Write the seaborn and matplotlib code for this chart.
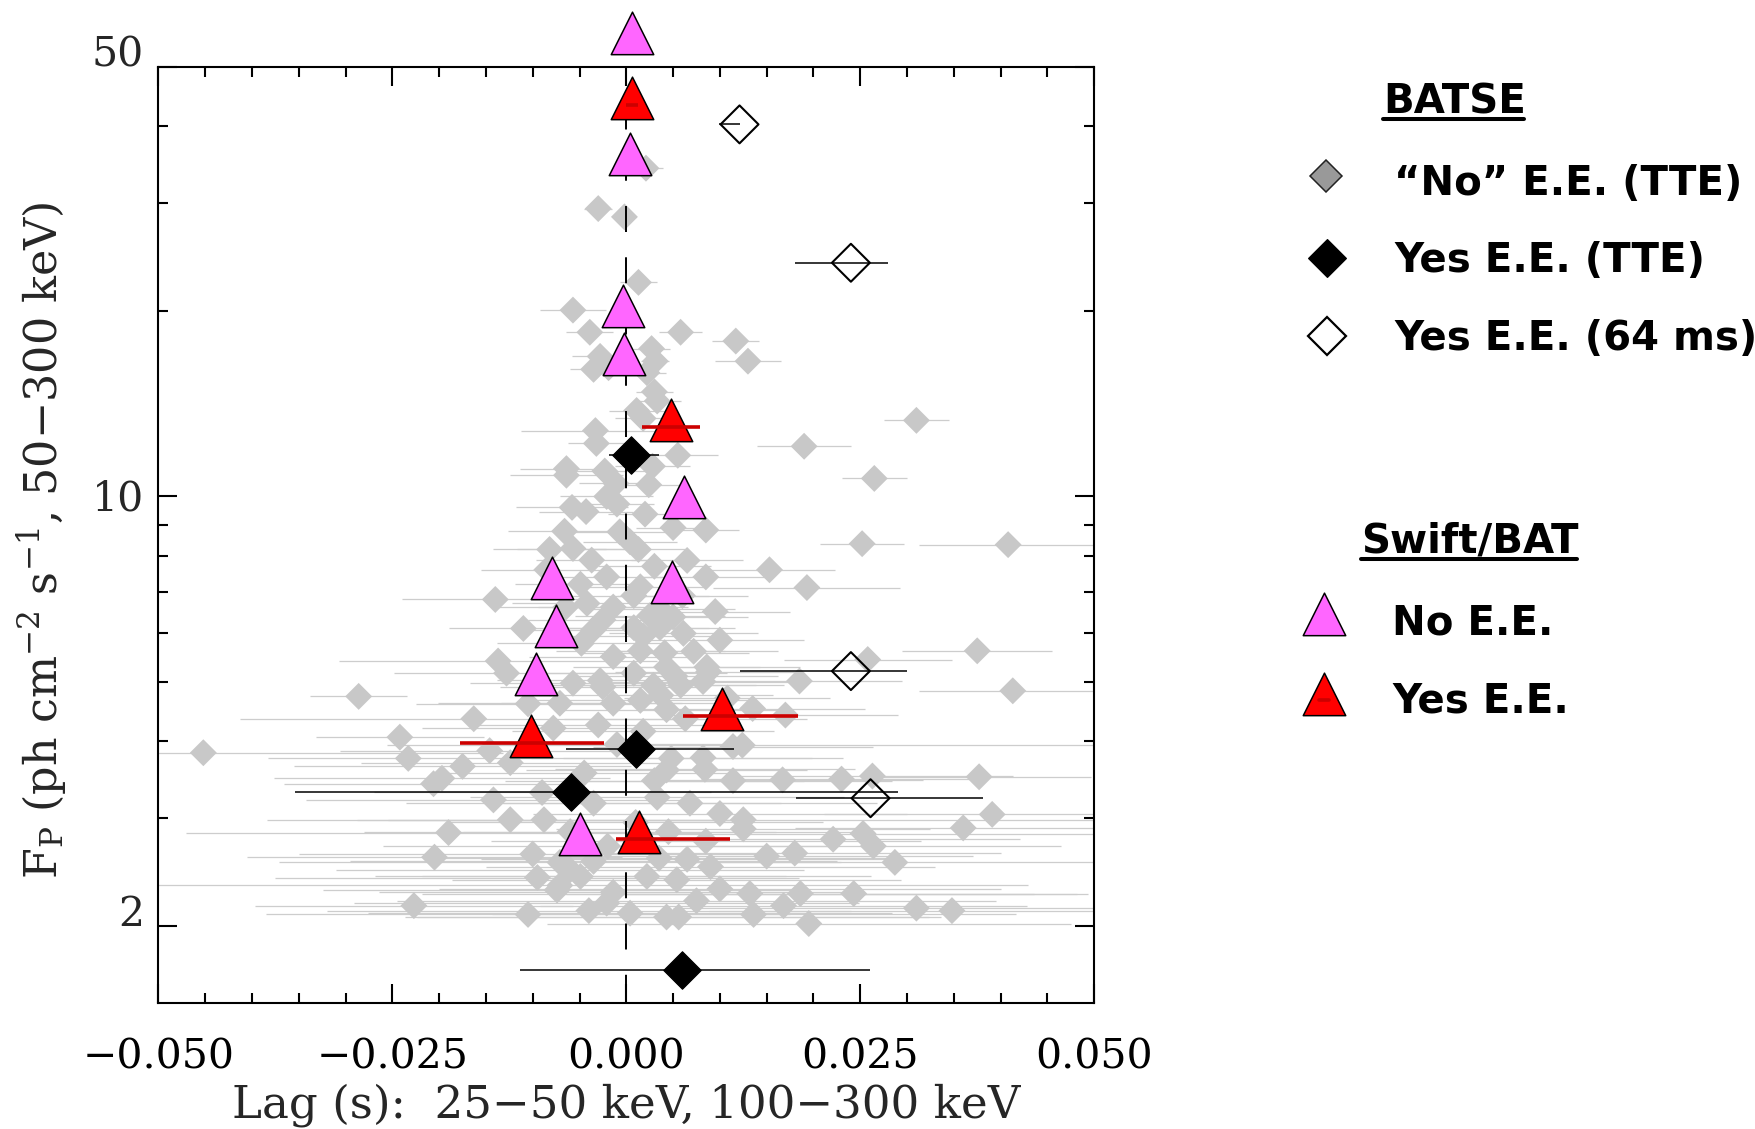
import numpy as np
import matplotlib
matplotlib.use("Agg")
import matplotlib.pyplot as plt
import matplotlib.transforms as mtransforms
import seaborn as sns
from matplotlib.ticker import FixedLocator, MultipleLocator, FuncFormatter, NullFormatter
from matplotlib.lines import Line2D
from matplotlib.markers import MarkerStyle
from matplotlib.path import Path

# ---------------- data ----------------
# BATSE "No" E.E. (TTE): lag (s), peak flux, symmetric lag error
no_ee_lag = [-0.0030, -0.0002, 0.0021, 0.0013, -0.0057, -0.0039, 0.0058, 0.0117, 0.0130, 0.0027,
             0.0031, -0.0028, -0.0035, 0.0022, -0.0019, 0.0030, 0.0033, 0.0011, 0.0018, 0.0310,
             -0.0033, -0.0032, 0.0190, 0.0055, -0.0064, -0.0023, 0.0028, 0.0265, -0.0064, -0.0011,
             0.0024, -0.0021, -0.0010, -0.0058, -0.0043, 0.0020, 0.0085, 0.0252, 0.0408, -0.0007,
             -0.0066, 0.0050, 0.0004, 0.0013, -0.0057, -0.0082, 0.0065, -0.0037, 0.0153, 0.0193,
             -0.0021, -0.0049, 0.0015, -0.0140, -0.0042, -0.0014, 0.0008, 0.0036, 0.0050, -0.0110,
             -0.0035, 0.0008, 0.0036, 0.0061, 0.0100, 0.0072, -0.0048, -0.0014, 0.0015, -0.0137,
             -0.0128, 0.0043, 0.0086, 0.0008, 0.0375, 0.0258, 0.0185, 0.0088, 0.0041, 0.0018,
             -0.0057, -0.0028, 0.0029, 0.0058, 0.0413, -0.0286, -0.0163, -0.0071, -0.0014, 0.0015,
             0.0043, 0.0135, 0.0170, -0.0242, -0.0452, 0.0124, -0.0233, -0.0175, -0.0197, -0.0206,
             0.0167, 0.0230, 0.0263, 0.0377, 0.0043, 0.0082, 0.0114, -0.0124, -0.0146, -0.0142,
             -0.0124, -0.0088, -0.0035, 0.0033, 0.0068, 0.0100, 0.0125, 0.0125, 0.0150, 0.0180,
             0.0221, 0.0253, 0.0264, 0.0287, 0.0360, 0.0391, -0.0190, -0.0205, 0.0065, -0.0071,
             -0.0049, 0.0090, 0.0022, 0.0054, -0.0074, -0.0060, -0.0014, 0.0132, 0.0136, 0.0168,
             0.0186, 0.0195, 0.0243, 0.0310, 0.0348, -0.0227, -0.0105, -0.0040, -0.0021, 0.0004,
             0.0043, 0.0056, -0.0071,
             0.0052, 0.0082, 0.0037, 0.0108, 0.0063, 0.0018, 0.0048, 0.0084, 0.0114, 0.0030,
             -0.0010, -0.0030, -0.0045, -0.0090, -0.0060, -0.0020, 0.0010, 0.0045, 0.0085, -0.0100,
             0.0035, -0.0035, 0.0100, 0.0075, -0.0095, -0.0025, -0.0078, -0.0105, 0.0025, -0.0025,
             -0.0065, 0.0060, 0.0095, -0.0085, 0.0030, 0.0085]
no_ee_flux = [29.4, 28.5, 34.2, 22.3, 20.1, 18.5, 18.5, 17.9, 16.6, 17.4,
              16.6, 16.9, 16.1, 15.9, 16.2, 14.8, 14.3, 13.8, 13.4, 13.3,
              12.8, 12.2, 12.07, 11.67, 11.1, 11.0, 11.2, 10.7, 10.83, 10.5,
              10.45, 10.0, 9.72, 9.6, 9.45, 9.36, 8.82, 8.38, 8.35, 8.76,
              8.78, 8.9, 8.44, 8.2, 8.23, 8.2, 7.87, 7.88, 7.6, 7.11,
              7.40, 7.2, 7.13, 6.8, 6.7, 6.61, 6.9, 6.56, 6.37, 6.10,
              6.07, 6.12, 6.12, 5.99, 5.84, 5.6, 5.77, 5.49, 5.61, 5.40,
              5.16, 5.28, 5.28, 5.16, 5.61, 5.43, 5.01, 5.19, 5.57, 5.93,
              4.97, 5.02, 4.93, 4.93, 4.83, 4.73, 4.35, 4.61, 4.61, 4.66,
              4.5, 4.52, 4.41, 4.06, 3.83, 3.94, 3.75, 3.64, 3.48, 3.41,
              3.46, 3.47, 3.51, 3.50, 3.59, 3.76, 3.92, 3.69, 3.86, 3.21,
              2.98, 2.98, 3.17, 3.24, 3.17, 3.05, 2.88, 2.98, 2.60, 2.63,
              2.77, 2.83, 2.70, 2.54, 2.89, 3.04, 2.84, 2.59, 2.57, 2.54,
              2.41, 2.50, 2.41, 2.38, 2.29, 2.47, 2.27, 2.26, 2.09, 2.16,
              2.26, 2.02, 2.26, 2.14, 2.12, 2.16, 2.09, 2.12, 2.18, 2.10,
              2.07, 2.07, 2.33,
              5.1, 5.0, 4.75, 4.7, 4.35, 4.15, 3.75, 3.6, 3.45, 3.45,
              3.95, 4.25, 3.55, 3.30, 2.85, 2.70, 2.95, 2.85, 2.75, 2.62,
              2.58, 2.55, 2.30, 2.20, 2.40, 4.9, 4.2, 4.6, 6.4, 6.3,
              6.6, 6.9, 6.5, 7.6, 7.7, 7.4]
no_ee_err = [0.0015, 0.0012, 0.0018, 0.0020, 0.0035, 0.0025, 0.0023, 0.0025, 0.0035, 0.0020,
             0.0015, 0.0030, 0.0025, 0.0020, 0.0020, 0.0020, 0.0025, 0.0030, 0.0030, 0.0035,
             0.0080, 0.0030, 0.0050, 0.0043, 0.0050, 0.0050, 0.0040, 0.0035, 0.0060, 0.0040,
             0.0040, 0.0050, 0.0040, 0.0060, 0.0050, 0.0040, 0.0035, 0.0045, 0.0095, 0.0050,
             0.0060, 0.0040, 0.0050, 0.0050, 0.0060, 0.0060, 0.0060, 0.0060, 0.0070, 0.0100,
             0.0070, 0.0070, 0.0070, 0.0100, 0.0080, 0.0080, 0.0080, 0.0080, 0.0080, 0.0080,
             0.0080, 0.0080, 0.0080, 0.0080, 0.0090, 0.0090, 0.0090, 0.0090, 0.0090, 0.0170,
             0.0120, 0.0100, 0.0100, 0.0100, 0.0080, 0.0090, 0.0110, 0.0100, 0.0090, 0.0090,
             0.0110, 0.0110, 0.0110, 0.0110, 0.0100, 0.0052, 0.0250, 0.0130, 0.0120, 0.0120,
             0.0120, 0.0120, 0.0120, 0.0090, 0.0320, 0.0380, 0.0150, 0.0180, 0.0180, 0.0160,
             0.0150, 0.0150, 0.0150, 0.0120, 0.0150, 0.0150, 0.0150, 0.0160, 0.0160, 0.0200,
             0.0260, 0.0200, 0.0200, 0.0200, 0.0200, 0.0200, 0.0200, 0.0380, 0.0220, 0.0220,
             0.0200, 0.0250, 0.0200, 0.0220, 0.0180, 0.0180, 0.0280, 0.0200, 0.0220, 0.0300,
             0.0220, 0.0240, 0.0240, 0.0240, 0.0250, 0.0250, 0.0250, 0.0350, 0.0280, 0.0260,
             0.0250, 0.0280, 0.0250, 0.0260, 0.0260, 0.0170, 0.0280, 0.0280, 0.0270, 0.0280,
             0.0280, 0.0280, 0.0500,
             0.0110, 0.0100, 0.0120, 0.0110, 0.0130, 0.0140, 0.0150, 0.0160, 0.0170, 0.0160,
             0.0140, 0.0130, 0.0160, 0.0180, 0.0220, 0.0240, 0.0200, 0.0220, 0.0230, 0.0250,
             0.0250, 0.0260, 0.0300, 0.0320, 0.0280, 0.0110, 0.0140, 0.0120, 0.0080, 0.0080,
             0.0080, 0.0070, 0.0080, 0.0070, 0.0060, 0.0070]

# BATSE Yes E.E. (TTE)
yes_tte_lag = [0.0005, 0.0010, -0.0059, 0.0060]
yes_tte_flux = [11.68, 3.89, 3.31, 1.70]
yes_tte_err_lo = [0.0024, 0.0074, 0.0295, 0.0174]
yes_tte_err_hi = [0.0030, 0.0105, 0.0349, 0.0200]

# BATSE Yes E.E. (64 ms)
yes64_lag = [0.0121, 0.0240, 0.0240, 0.0261]
yes64_flux = [40.3, 24.0, 5.20, 3.23]
yes64_err_lo = [0.0022, 0.0060, 0.0119, 0.0080]
yes64_err_hi = [0.0000, 0.0040, 0.0060, 0.0120]

# Swift/BAT No E.E.
swift_no_lag = [0.0006, 0.0004, -0.0004, -0.0002, 0.0062, -0.0079, 0.0049, -0.0075, -0.0096, -0.0049]
swift_no_flux = [55.2, 35.2, 19.9, 16.6, 9.71, 7.19, 7.08, 6.00, 5.01, 2.75]

# Swift/BAT Yes E.E.
swift_yes_lag = [0.0006, 0.0048, 0.0102, -0.0102, 0.0014]
swift_yes_flux = [43.3, 12.95, 4.40, 3.97, 2.77]
swift_yes_err_lo = [0.0006, 0.0031, 0.0041, 0.0076, 0.0025]
swift_yes_err_hi = [0.0006, 0.0031, 0.0081, 0.0078, 0.0097]

x_ticks = [-0.050, -0.025, 0.000, 0.025, 0.050]
y_ticks = [2, 10, 50]
y_tick_labels = ["2", "10", "50"]

# ---------------- style ----------------
sns.set_theme(style="ticks")
plt.rcParams.update({
    "font.family": ["DejaVu Serif"],
    "mathtext.fontset": "dejavuserif",
    "axes.unicode_minus": True,
    "lines.scale_dashes": False,
    "axes.edgecolor": "black",
    "axes.linewidth": 1.5,
})

fig = plt.figure(figsize=(17.55, 11.29), dpi=100)
ax = fig.add_axes([0.09026, 0.11160, 0.53322, 0.82923])
ax.set_yscale("log")
ax.set_xlim(-0.05, 0.05)
ax.set_ylim(1.5, 50)

GRAY = "#c8c8c8"

# triangle marker centred on its centroid
tri_path = Path([(0, 2 / 3), (-0.5, -1 / 3), (0.5, -1 / 3), (0, 2 / 3)],
                [Path.MOVETO, Path.LINETO, Path.LINETO, Path.CLOSEPOLY])
tri_marker = MarkerStyle(tri_path)

# gray points
ax.errorbar(no_ee_lag, no_ee_flux, xerr=no_ee_err, fmt="none", ecolor="#cdcdcd",
            elinewidth=0.9, capsize=0, zorder=1)
sns.scatterplot(x=no_ee_lag, y=no_ee_flux, marker="D", s=188, color=GRAY,
                linewidth=0, edgecolor="none", zorder=2, ax=ax, legend=False)

# dashed zero line
ax.plot([0, 0], [50, 1.5], color="black", lw=1.4,
        linestyle=(10.6, (18.7, 18.2)), zorder=3)

# BATSE yes EE
ax.errorbar(yes_tte_lag, yes_tte_flux, xerr=[yes_tte_err_lo, yes_tte_err_hi], fmt="none",
            ecolor="black", elinewidth=1.1, capsize=0, zorder=4)
sns.scatterplot(x=yes_tte_lag, y=yes_tte_flux, marker="D", s=365, color="black",
                edgecolor="black", linewidth=0.8, zorder=5, ax=ax, legend=False)
ax.errorbar(yes64_lag, yes64_flux, xerr=[yes64_err_lo, yes64_err_hi], fmt="none",
            ecolor="black", elinewidth=1.1, capsize=0, zorder=4)
ax.scatter(yes64_lag, yes64_flux, marker="D", s=373, facecolors="none",
           edgecolors="black", linewidths=1.5, zorder=5)

# Swift
sns.scatterplot(x=swift_no_lag, y=swift_no_flux, marker=tri_marker, s=1665, color="#ff66ff",
                edgecolor="black", linewidth=1.1, zorder=6, ax=ax, legend=False, clip_on=False)
sns.scatterplot(x=swift_yes_lag, y=swift_yes_flux, marker=tri_marker, s=1665, color="#ff0000",
                edgecolor="black", linewidth=1.1, zorder=6, ax=ax, legend=False, clip_on=False)
ax.errorbar(swift_yes_lag, swift_yes_flux, xerr=[swift_yes_err_lo, swift_yes_err_hi], fmt="none",
            ecolor="#cc0000", elinewidth=2.6, capsize=0, zorder=7)

# ---------------- axes ----------------
ax.xaxis.set_major_locator(FixedLocator(x_ticks))
ax.xaxis.set_minor_locator(MultipleLocator(0.005))
ax.xaxis.set_major_formatter(FuncFormatter(lambda v, p: f"{v:.3f}".replace("-", "\u2212")))
ax.yaxis.set_major_locator(FixedLocator(y_ticks))
ax.yaxis.set_major_formatter(NullFormatter())
ax.yaxis.set_minor_locator(FixedLocator([3, 4, 5, 6, 7, 8, 9, 20, 30, 40]))
ax.yaxis.set_minor_formatter(NullFormatter())

ax.tick_params(which="both", direction="in", top=True, right=True, colors="black", width=1.5)
ax.tick_params(which="major", length=13.5)
ax.tick_params(which="minor", length=7)
ax.tick_params(axis="x", which="major", pad=25, labelsize=29.5)
ax.tick_params(axis="y", which="major", labelleft=False)
for sp in ax.spines.values():
    sp.set_linewidth(1.5)
    sp.set_color("black")

# y tick labels placed like the original (50 and 2 sit slightly above their ticks)
y_label_dy = [8.0, -2.0, 8.0]   # points
for val, lab, dy in zip(y_ticks, y_tick_labels, y_label_dy):
    tr = mtransforms.offset_copy(ax.get_yaxis_transform(), fig=fig, x=-10.5, y=dy, units="points")
    ax.text(0, val, lab, transform=tr, ha="right", va="center", fontsize=29.5, clip_on=False)

ax.set_xlabel("Lag (s):  25\u221250 keV, 100\u2212300 keV", fontsize=32.5)
ax.xaxis.set_label_coords(0.5, -0.086)
ax.set_ylabel(r"F$_\mathrm{P}$ (ph cm$^{-2}$ s$^{-1}$, 50$-$300 keV)", fontsize=32)
ax.yaxis.set_label_coords(-0.1239, 0.4946)
ax.yaxis.label.set_va("center")

# ---------------- legend (manual) ----------------
W, H = 1755.0, 1129.0
def fx(px):
    return px / W
def fy(py):
    return 1 - py / H

lfont = dict(family=["DejaVu Sans"], fontweight="bold", fontsize=29, color="black")

fig.text(fx(1383), fy(114), "BATSE", ha="left", va="baseline", **lfont)
fig.add_artist(Line2D([fx(1382.7), fx(1524)], [fy(118.5), fy(118.5)], color="black", lw=2.9,
                      transform=fig.transFigure))
rows = [("\u201cNo\u201d E.E. (TTE)", 195),
        ("Yes E.E. (TTE)", 271.7),
        ("Yes E.E. (64 ms)", 350)]
for txt, base in rows:
    fig.text(fx(1394), fy(base), txt, ha="left", va="baseline", **lfont)
fig.add_artist(Line2D([fx(1326)], [fy(175.5)], marker="D", ms=15.8, mfc="#999999", mec="#222222",
                      mew=1.1, linestyle="none", transform=fig.transFigure))
fig.add_artist(Line2D([fx(1327)], [fy(258)], marker="D", ms=19.5, mfc="black", mec="black",
                      mew=0.8, linestyle="none", transform=fig.transFigure))
fig.add_artist(Line2D([fx(1327)], [fy(336)], marker="D", ms=19.3, mfc="white", mec="black",
                      mew=1.6, linestyle="none", transform=fig.transFigure))

fig.text(fx(1361), fy(552), "Swift/BAT", ha="left", va="baseline", **lfont)
fig.add_artist(Line2D([fx(1361), fx(1577)], [fy(559), fy(559)], color="black", lw=2.9,
                      transform=fig.transFigure))
fig.text(fx(1392), fy(634.7), "No E.E.", ha="left", va="baseline", **lfont)
fig.text(fx(1392), fy(712.7), "Yes E.E.", ha="left", va="baseline", **lfont)
fig.add_artist(Line2D([fx(1324)], [fy(621)], marker=tri_marker, ms=40.8, mfc="#ff66ff",
                      mec="black", mew=1.1, linestyle="none", transform=fig.transFigure))
fig.add_artist(Line2D([fx(1324)], [fy(701)], marker=tri_marker, ms=40.8, mfc="#ff0000",
                      mec="black", mew=1.1, linestyle="none", transform=fig.transFigure))
fig.add_artist(Line2D([fx(1319), fx(1329)], [fy(700), fy(700)], color="#cc0000", lw=2.6,
                      transform=fig.transFigure))

fig.savefig("out.png", dpi=100)
